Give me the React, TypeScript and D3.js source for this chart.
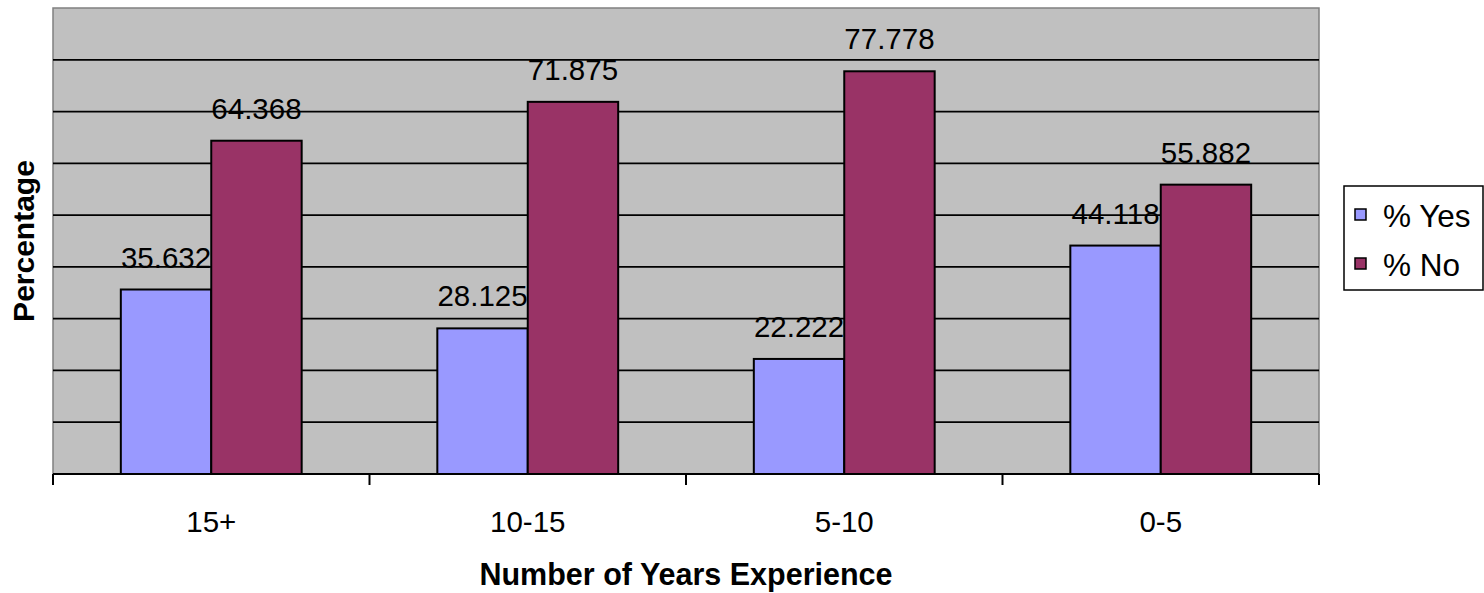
import React from "react";
import * as d3 from "d3";

const categories = ["15+", "10-15", "5-10", "0-5"];
const seriesNames = ["% Yes", "% No"];
const yesValues = [35.632, 28.125, 22.222, 44.118];
const noValues = [64.368, 71.875, 77.778, 55.882];
const gridValues = [10, 20, 30, 40, 50, 60, 70, 80];

const COLORS = ["#9999FF", "#993366"];
const FONT = "'Liberation Sans', Arial, sans-serif";

const W = 1484;
const H = 593;
const margin = { top: 8, right: 165, bottom: 119, left: 53 };

export default function App() {
  const x0 = d3
    .scaleBand<string>()
    .domain(categories)
    .range([margin.left, W - margin.right])
    .paddingInner(0)
    .paddingOuter(0);
  const x1 = d3
    .scaleBand<string>()
    .domain(seriesNames)
    .range([0, x0.bandwidth()])
    .paddingInner(0)
    .paddingOuter(0.75);
  const y = d3.scaleLinear().domain([0, 90]).range([H - margin.bottom, margin.top]);

  const series = [yesValues, noValues];
  const left = margin.left;
  const right = W - margin.right;
  const bottom = y(0);
  const top = y(90);

  // tick marks sit on the category boundaries
  const ticks = categories.map((c) => x0(c) as number).concat([right]);

  return (
    <svg
      width={W}
      height={H}
      viewBox={`0 0 ${W} ${H}`}
      style={{ position: "absolute", left: 0, top: 0, background: "#fff" }}
      fontFamily={FONT}
    >
      {/* plot area */}
      <rect x={left} y={top} width={right - left} height={bottom - top} fill="#C0C0C0" stroke="#808080" strokeWidth={1.5} />
      {gridValues.map((v) => (
        <line key={v} x1={left} x2={right} y1={y(v)} y2={y(v)} stroke="#000" strokeWidth={1.7} />
      ))}

      {/* bars */}
      {categories.map((c, ci) =>
        series.map((vals, si) => {
          const bx = (x0(c) as number) + (x1(seriesNames[si]) as number);
          return (
            <rect
              key={c + si}
              x={bx}
              y={y(vals[ci])}
              width={x1.bandwidth()}
              height={bottom - y(vals[ci])}
              fill={COLORS[si]}
              stroke="#000"
              strokeWidth={2}
            />
          );
        })
      )}

      {/* value labels */}
      {categories.map((c, ci) =>
        series.map((vals, si) => {
          const cx = (x0(c) as number) + (x1(seriesNames[si]) as number) + x1.bandwidth() / 2;
          return (
            <text key={"l" + c + si} x={cx} y={y(vals[ci]) - 22} textAnchor="middle" fontSize={29.5} fill="#000">
              {vals[ci].toFixed(3)}
            </text>
          );
        })
      )}

      {/* x axis */}
      <line x1={left} x2={right} y1={bottom} y2={bottom} stroke="#000" strokeWidth={2} />
      {ticks.map((t, i) => (
        <line key={"t" + i} x1={t} x2={t} y1={bottom} y2={bottom + 11} stroke="#000" strokeWidth={2} />
      ))}
      {categories.map((c) => (
        <text key={"c" + c} x={(x0(c) as number) + x0.bandwidth() / 2} y={532} textAnchor="middle" fontSize={29.5} fill="#000">
          {c}
        </text>
      ))}

      {/* axis titles */}
      <text x={(left + right) / 2} y={585} textAnchor="middle" fontSize={30.5} fontWeight="bold" fill="#000">
        Number of Years Experience
      </text>
      <text
        transform={`translate(34,${(top + bottom) / 2}) rotate(-90)`}
        textAnchor="middle"
        fontSize={30}
        fontWeight="bold"
        fill="#000"
      >
        Percentage
      </text>

      {/* legend */}
      <rect x={1344} y={186} width={139} height={104} fill="#fff" stroke="#000" strokeWidth={1.5} />
      {seriesNames.map((s, i) => (
        <g key={s} transform={`translate(1355,${209 + i * 49})`}>
          <rect x={0} y={0} width={11} height={11} fill={COLORS[i]} stroke="#000" strokeWidth={1.5} />
          <text x={28} y={18} fontSize={31.5} fill="#000">
            {s}
          </text>
        </g>
      ))}
    </svg>
  );
}
